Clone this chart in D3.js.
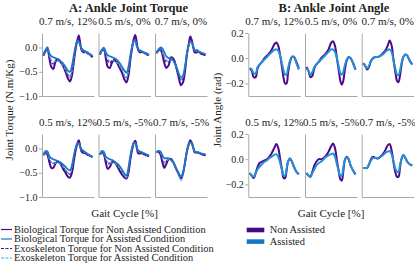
<!DOCTYPE html>
<html>
<head>
<meta charset="utf-8">
<script src="https://cdn.jsdelivr.net/npm/d3@7"></script>
<style>
  body { margin: 0; background: #fff; }
  text { font-family: "Liberation Serif", "Times New Roman", serif; fill: #222; }
</style>
</head>
<body>
<script>
// gait cycle samples (%), shared by every curve
var gait = [0, 4, 8, 12, 16, 20, 25, 30, 35, 40, 45, 50, 54, 58, 62, 66, 69, 72, 75, 78, 82, 86, 90, 95, 100];

// panel titles, top row then bottom row
var conditions = ["0.7 m/s, 12%", "0.5 m/s, 0%", "0.7 m/s, 0%", "0.5 m/s, 12%", "0.5 m/s, -5%", "0.7 m/s, -5%"];

// A: ankle joint torque (N.m/Kg), one array per panel
var torqueBioNA = [
  [-0.17,-0.08,-0.04,-0.22,-0.40,-0.44,-0.28,-0.24,-0.30,-0.38,-0.50,-0.64,-0.70,-0.58,-0.28,0.00,0.15,0.25,0.08,-0.06,-0.10,-0.09,-0.12,-0.15,-0.20],
  [-0.15,-0.06,-0.05,-0.22,-0.40,-0.42,-0.30,-0.26,-0.32,-0.42,-0.52,-0.66,-0.72,-0.58,-0.25,0.02,0.18,0.26,0.10,-0.05,-0.10,-0.09,-0.11,-0.14,-0.16],
  [-0.12,-0.06,-0.04,-0.14,-0.32,-0.42,-0.36,-0.20,-0.24,-0.40,-0.60,-0.78,-0.72,-0.50,-0.15,0.08,0.23,0.15,0.00,-0.10,-0.10,-0.08,-0.12,-0.14,-0.16],
  [-0.14,-0.09,-0.12,-0.28,-0.40,-0.40,-0.30,-0.27,-0.32,-0.42,-0.50,-0.58,-0.60,-0.50,-0.25,-0.02,0.10,0.17,0.04,-0.07,-0.09,-0.10,-0.13,-0.15,-0.18],
  [-0.13,-0.08,-0.12,-0.30,-0.42,-0.38,-0.28,-0.28,-0.36,-0.46,-0.54,-0.60,-0.62,-0.50,-0.22,0.00,0.12,0.16,0.02,-0.10,-0.10,-0.10,-0.12,-0.14,-0.16],
  [-0.08,-0.06,-0.12,-0.28,-0.40,-0.32,-0.22,-0.22,-0.30,-0.42,-0.52,-0.62,-0.52,-0.30,-0.06,0.10,0.17,0.12,0.02,-0.08,-0.08,-0.09,-0.11,-0.13,-0.14]
];
var torqueBioA = [
  [-0.14,-0.05,0.01,-0.12,-0.18,-0.20,-0.22,-0.24,-0.28,-0.33,-0.40,-0.48,-0.50,-0.38,-0.15,0.05,0.14,0.12,0.04,-0.02,-0.06,-0.08,-0.10,-0.14,-0.17],
  [-0.12,-0.04,0.00,-0.10,-0.16,-0.18,-0.20,-0.22,-0.26,-0.32,-0.40,-0.48,-0.52,-0.40,-0.15,0.05,0.14,0.12,0.03,-0.03,-0.06,-0.08,-0.10,-0.12,-0.15],
  [-0.10,-0.04,0.00,-0.02,-0.10,-0.18,-0.22,-0.22,-0.28,-0.38,-0.52,-0.62,-0.58,-0.40,-0.12,0.06,0.12,0.10,0.02,-0.06,-0.05,-0.08,-0.10,-0.12,-0.13],
  [-0.13,-0.05,-0.06,-0.16,-0.20,-0.22,-0.24,-0.26,-0.29,-0.33,-0.38,-0.43,-0.45,-0.35,-0.14,0.03,0.11,0.10,0.03,-0.02,-0.05,-0.08,-0.11,-0.14,-0.17],
  [-0.12,-0.05,-0.07,-0.17,-0.20,-0.22,-0.24,-0.27,-0.31,-0.36,-0.44,-0.52,-0.56,-0.40,-0.14,0.04,0.12,0.11,0.03,-0.04,-0.06,-0.08,-0.10,-0.12,-0.14],
  [-0.08,-0.05,-0.06,-0.14,-0.20,-0.20,-0.20,-0.24,-0.30,-0.40,-0.50,-0.58,-0.50,-0.30,-0.06,0.08,0.13,0.10,0.02,-0.06,-0.07,-0.08,-0.10,-0.11,-0.12]
];
var torqueExoNA = [
  [-0.15,-0.06,-0.02,-0.16,-0.30,-0.34,-0.26,-0.24,-0.30,-0.36,-0.45,-0.56,-0.60,-0.50,-0.24,0.02,0.14,0.20,0.06,-0.04,-0.08,-0.08,-0.11,-0.14,-0.18],
  [-0.13,-0.05,-0.03,-0.16,-0.28,-0.32,-0.26,-0.24,-0.30,-0.38,-0.46,-0.58,-0.62,-0.50,-0.22,0.03,0.16,0.20,0.07,-0.04,-0.08,-0.08,-0.10,-0.13,-0.15],
  [-0.11,-0.05,-0.02,-0.08,-0.22,-0.30,-0.30,-0.22,-0.26,-0.38,-0.55,-0.68,-0.64,-0.44,-0.13,0.07,0.18,0.13,0.01,-0.08,-0.08,-0.08,-0.11,-0.13,-0.15],
  [-0.13,-0.07,-0.09,-0.22,-0.30,-0.31,-0.27,-0.27,-0.31,-0.38,-0.45,-0.51,-0.53,-0.43,-0.20,0.00,0.10,0.14,0.04,-0.05,-0.07,-0.09,-0.12,-0.15,-0.18],
  [-0.12,-0.06,-0.10,-0.24,-0.32,-0.30,-0.26,-0.28,-0.34,-0.41,-0.49,-0.56,-0.59,-0.45,-0.18,0.02,0.12,0.14,0.03,-0.07,-0.08,-0.09,-0.11,-0.13,-0.15],
  [-0.08,-0.05,-0.09,-0.21,-0.30,-0.26,-0.21,-0.23,-0.30,-0.41,-0.51,-0.60,-0.51,-0.30,-0.06,0.09,0.15,0.11,0.02,-0.07,-0.07,-0.08,-0.10,-0.12,-0.13]
];
var torqueExoA = [
  [-0.15,-0.08,-0.02,-0.18,-0.26,-0.30,-0.28,-0.28,-0.32,-0.38,-0.46,-0.56,-0.62,-0.50,-0.22,0.02,0.12,0.13,0.05,-0.04,-0.08,-0.10,-0.13,-0.16,-0.19],
  [-0.14,-0.07,-0.03,-0.16,-0.24,-0.28,-0.27,-0.28,-0.32,-0.38,-0.46,-0.58,-0.62,-0.50,-0.22,0.02,0.13,0.14,0.05,-0.04,-0.07,-0.09,-0.11,-0.13,-0.16],
  [-0.12,-0.06,-0.03,-0.10,-0.20,-0.26,-0.28,-0.26,-0.30,-0.40,-0.54,-0.66,-0.62,-0.44,-0.14,0.05,0.12,0.10,0.02,-0.06,-0.07,-0.09,-0.11,-0.12,-0.14],
  [-0.14,-0.08,-0.10,-0.22,-0.28,-0.30,-0.30,-0.30,-0.33,-0.38,-0.44,-0.50,-0.52,-0.40,-0.16,0.02,0.11,0.11,0.04,-0.03,-0.07,-0.09,-0.12,-0.15,-0.18],
  [-0.13,-0.07,-0.10,-0.22,-0.28,-0.30,-0.30,-0.31,-0.35,-0.40,-0.48,-0.56,-0.60,-0.46,-0.16,0.02,0.11,0.11,0.03,-0.05,-0.07,-0.09,-0.11,-0.13,-0.15],
  [-0.09,-0.06,-0.09,-0.20,-0.28,-0.26,-0.22,-0.25,-0.32,-0.42,-0.54,-0.66,-0.55,-0.32,-0.07,0.07,0.13,0.11,0.02,-0.06,-0.07,-0.08,-0.10,-0.11,-0.12]
];

// B: ankle joint angle (rad), one array per panel
var angleNA = [
  [-0.08,-0.10,-0.15,-0.15,-0.08,-0.05,-0.03,0.00,0.02,0.04,0.07,0.11,0.125,0.10,0.02,-0.08,-0.16,-0.20,-0.20,-0.12,-0.03,0.01,0.01,-0.03,-0.08],
  [-0.07,-0.10,-0.15,-0.14,-0.08,-0.05,-0.03,0.00,0.02,0.04,0.07,0.12,0.135,0.10,0.00,-0.10,-0.18,-0.21,-0.18,-0.10,-0.02,0.01,0.00,-0.04,-0.09],
  [-0.04,-0.06,-0.09,-0.07,-0.02,0.00,0.01,0.01,0.02,0.04,0.06,0.10,0.14,0.10,-0.02,-0.12,-0.18,-0.19,-0.14,-0.06,0.01,0.03,0.02,-0.02,-0.05],
  [-0.11,-0.13,-0.15,-0.11,-0.06,-0.03,-0.02,-0.01,0.00,0.02,0.05,0.09,0.12,0.09,0.00,-0.09,-0.15,-0.15,-0.09,-0.02,0.005,-0.02,-0.06,-0.10,-0.12],
  [-0.11,-0.13,-0.14,-0.10,-0.05,-0.02,0.00,0.00,0.01,0.03,0.06,0.10,0.125,0.09,-0.01,-0.10,-0.16,-0.17,-0.10,-0.01,0.02,0.00,-0.05,-0.09,-0.12],
  [-0.07,-0.07,-0.07,-0.04,0.00,0.02,0.01,0.005,0.02,0.04,0.07,0.11,0.12,0.07,-0.03,-0.11,-0.14,-0.14,-0.07,0.00,0.03,0.01,-0.02,-0.04,-0.05]
];
var angleA = [
  [-0.08,-0.09,-0.12,-0.12,-0.07,-0.05,-0.03,-0.01,0.01,0.03,0.05,0.065,0.07,0.06,0.02,-0.05,-0.10,-0.13,-0.13,-0.08,-0.02,0.01,0.01,-0.04,-0.09],
  [-0.08,-0.10,-0.13,-0.11,-0.07,-0.05,-0.03,-0.01,0.01,0.03,0.05,0.07,0.07,0.05,0.00,-0.07,-0.12,-0.13,-0.11,-0.06,-0.01,0.01,0.00,-0.04,-0.09],
  [-0.04,-0.06,-0.08,-0.06,-0.02,0.00,0.01,0.01,0.02,0.03,0.05,0.065,0.07,0.05,-0.02,-0.09,-0.13,-0.135,-0.10,-0.04,0.01,0.03,0.02,-0.02,-0.05],
  [-0.11,-0.13,-0.14,-0.11,-0.08,-0.06,-0.04,-0.02,-0.01,0.01,0.02,0.035,0.04,0.02,-0.03,-0.09,-0.13,-0.13,-0.08,-0.02,0.005,-0.02,-0.06,-0.10,-0.12],
  [-0.11,-0.13,-0.14,-0.11,-0.08,-0.05,-0.03,-0.02,0.00,0.02,0.03,0.04,0.045,0.02,-0.04,-0.10,-0.13,-0.13,-0.07,-0.01,0.015,0.00,-0.05,-0.09,-0.12],
  [-0.07,-0.07,-0.07,-0.04,-0.01,0.01,0.01,0.01,0.02,0.03,0.05,0.06,0.065,0.04,-0.02,-0.08,-0.10,-0.10,-0.05,0.00,0.035,0.01,-0.02,-0.04,-0.05]
];

var torqueTicks = [0.0, -0.5, -1.0];
var angleTicks = [0.2, 0.0, -0.2];

var torqueLegend = ["Biological Torque for Non Assisted Condition", "Biological Torque for Assisted Condition",
                    "Exoskeleton Torque for Non Assisted Condition", "Exoskeleton Torque for Assisted Condition"];
var angleLegend = ["Non Assisted", "Assisted"];

// colours
var purple = "#4d0a8c", blue = "#1c78c4", lightBlue = "#3fa3dc", spine = "#a8a8a8";
var serif = "Liberation Serif, Times New Roman, serif";

var width = 415, height = 266;
var svg = d3.select("body").append("svg")
    .attr("width", width)
    .attr("height", height);

// panel grid
var panelW = 52, panelH = 63;
var rowTop = [33, 134];
var groupLeft = [[42, 98.5, 155], [248.3, 305, 361.7]];

var line = d3.line()
    .x(function(d) { return d[0]; })
    .y(function(d) { return d[1]; })
    .curve(d3.curveCatmullRom.alpha(0.5));

function drawPanel(g, k, yDomain, ticks, showTicks, series) {
  var x = d3.scaleLinear().domain([-3, 103]).range([0, panelW]);
  var y = d3.scaleLinear().domain(yDomain).range([panelH, 0]);

  // spines (left one carries the ticks on the first panel of a row)
  g.append("g")
    .attr("font-family", serif)
    .attr("font-size", 8.5)
    .call(d3.axisLeft(y).tickValues(showTicks ? ticks : []).tickSize(3).tickSizeOuter(0).tickPadding(1.5)
      .tickFormat(d3.format(".1f")));
  g.append("g")
    .attr("transform", "translate(0," + panelH + ")")
    .call(d3.axisBottom(x).tickValues([]).tickSizeOuter(0));
  g.selectAll(".domain").attr("stroke", spine);
  g.selectAll(".tick line").attr("stroke", spine);
  g.selectAll(".tick text").attr("fill", "#333");

  series.forEach(function(s) {
    g.append("path")
      .datum(s.values[k].map(function(v, i) { return [x(gait[i]), y(v)]; }))
      .attr("fill", "none")
      .attr("stroke", s.color)
      .attr("stroke-width", s.width)
      .attr("stroke-dasharray", s.dash || null)
      .attr("stroke-linejoin", "round")
      .attr("d", line);
  });

  g.append("text")
    .attr("x", panelW / 2)
    .attr("y", -8.5)
    .attr("text-anchor", "middle")
    .style("font-size", "11px")
    .text(conditions[k]);
}

var torqueSeries = [
  {values: torqueExoNA, color: purple, width: 1.1, dash: "3,1.5"},
  {values: torqueBioNA, color: purple, width: 2},
  {values: torqueExoA, color: lightBlue, width: 1.2, dash: "3,1.5"},
  {values: torqueBioA, color: blue, width: 1.8}
];
var angleSeries = [
  {values: angleNA, color: purple, width: 2},
  {values: angleA, color: "#2490d4", width: 2}
];

for (var k = 0; k < 6; k++) {
  var row = Math.floor(k / 3), col = k % 3;
  var gt = svg.append("g")
    .attr("transform", "translate(" + groupLeft[0][col] + "," + rowTop[row] + ")");
  drawPanel(gt, k, [-1.0, 0.3], torqueTicks, col === 0, torqueSeries);
  var ga = svg.append("g")
    .attr("transform", "translate(" + groupLeft[1][col] + "," + rowTop[row] + ")");
  drawPanel(ga, k, [-0.3, 0.2], angleTicks, col === 0, angleSeries);
}

// group titles and axis labels
var groupCenter = [groupLeft[0][0] + (groupLeft[0][2] + panelW - groupLeft[0][0]) / 2,
                   groupLeft[1][0] + (groupLeft[1][2] + panelW - groupLeft[1][0]) / 2];
svg.append("text")
  .attr("x", groupCenter[0] + 4).attr("y", 11.5)
  .attr("text-anchor", "middle")
  .style("font-size", "12.5px").style("font-weight", "bold")
  .text("A: Ankle Joint Torque");
svg.append("text")
  .attr("x", groupCenter[1] + 3).attr("y", 11.5)
  .attr("text-anchor", "middle")
  .style("font-size", "12.5px").style("font-weight", "bold")
  .text("B: Ankle Joint Angle");

svg.append("text")
  .attr("transform", "translate(13,110)rotate(-90)")
  .attr("text-anchor", "middle")
  .style("font-size", "11px")
  .text("Joint Torque (N.m/Kg)");
svg.append("text")
  .attr("transform", "translate(221,110)rotate(-90)")
  .attr("text-anchor", "middle")
  .style("font-size", "11px")
  .text("Joint Angle (rad)");

groupCenter.forEach(function(c) {
  svg.append("text")
    .attr("x", c).attr("y", 217)
    .attr("text-anchor", "middle")
    .style("font-size", "11px")
    .text("Gait Cycle [%]");
});

// legend for torque
var legT = svg.append("g").attr("transform", "translate(1,229.5)");
var legOrder = [torqueSeries[1], torqueSeries[3], torqueSeries[0], torqueSeries[2]];
torqueLegend.forEach(function(label, i) {
  var s = legOrder[i];
  legT.append("line")
    .attr("x1", 0).attr("x2", 11)
    .attr("y1", i * 9.5).attr("y2", i * 9.5)
    .attr("stroke", s.color)
    .attr("stroke-width", 1.2)
    .attr("stroke-dasharray", s.dash || null);
  legT.append("text")
    .attr("x", 13).attr("y", i * 9.5 + 3.4)
    .style("font-size", "10.4px")
    .text(label);
});

// legend for angle
var legA = svg.append("g").attr("transform", "translate(246.7,227.7)");
angleLegend.forEach(function(label, i) {
  legA.append("rect")
    .attr("x", 0).attr("y", i * 11.6)
    .attr("width", 17.6).attr("height", 4.6)
    .attr("fill", i === 0 ? "#4a0784" : "#1677c4");
  legA.append("text")
    .attr("x", 23).attr("y", i * 11.6 + 5.5)
    .style("font-size", "10.4px")
    .text(label);
});
</script>
</body>
</html>
